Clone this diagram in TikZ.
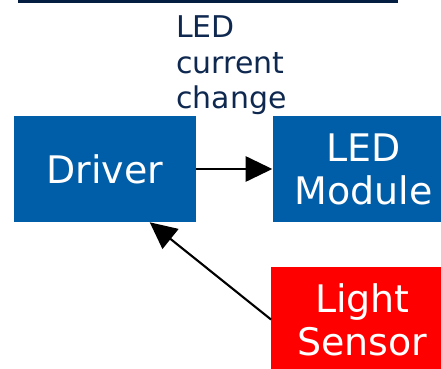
\documentclass[tikz,border=0pt]{standalone}
\usepackage{fontspec}
\setmainfont{DejaVu Sans}
\usetikzlibrary{positioning,arrows.meta}
\definecolor{boxblue}{RGB}{0,93,168}
\definecolor{navytext}{RGB}{14,40,80}
\definecolor{navyline}{RGB}{4,30,66}
\begin{document}
\begin{tikzpicture}[
    block/.style={minimum width=4.55cm, minimum height=2.65cm, inner sep=0pt,
      text=white, align=center, font=\fontsize{27}{30.6}\selectfont},
    link/.style={-{Triangle[length=19pt,width=18pt]}, line width=1.5pt}
  ]
    \useasboundingbox (0,0) rectangle (11.025,9.2);
    \clip (0,0) rectangle (11.025,9.2);

    % Rule cut off at the top
    \draw[navyline, line width=2.2pt] (0.45,9.175) -- (9.95,9.175);

    % Blocks
    \node[block, fill=boxblue] (driver) at (2.625,4.975) {Driver};
    \node[block, fill=boxblue, right=1.9cm of driver] (module) {LED\\Module};
    \node[block, fill=red, below=1.1cm of module, xshift=-0.03cm] (sensor) {Light\\Sensor};

    % Label above the link (base = last line)
    \node[anchor=base west, inner sep=0pt, text=navytext, align=left,
      font=\fontsize{21.3}{25.6}\selectfont] (change) at (4.4,6.475) {LED\\current\\change};

    % Links
    \draw[link] (driver) -- (module);
    \draw[link] (sensor.west) -- (driver.-50);
\end{tikzpicture}
\end{document}
